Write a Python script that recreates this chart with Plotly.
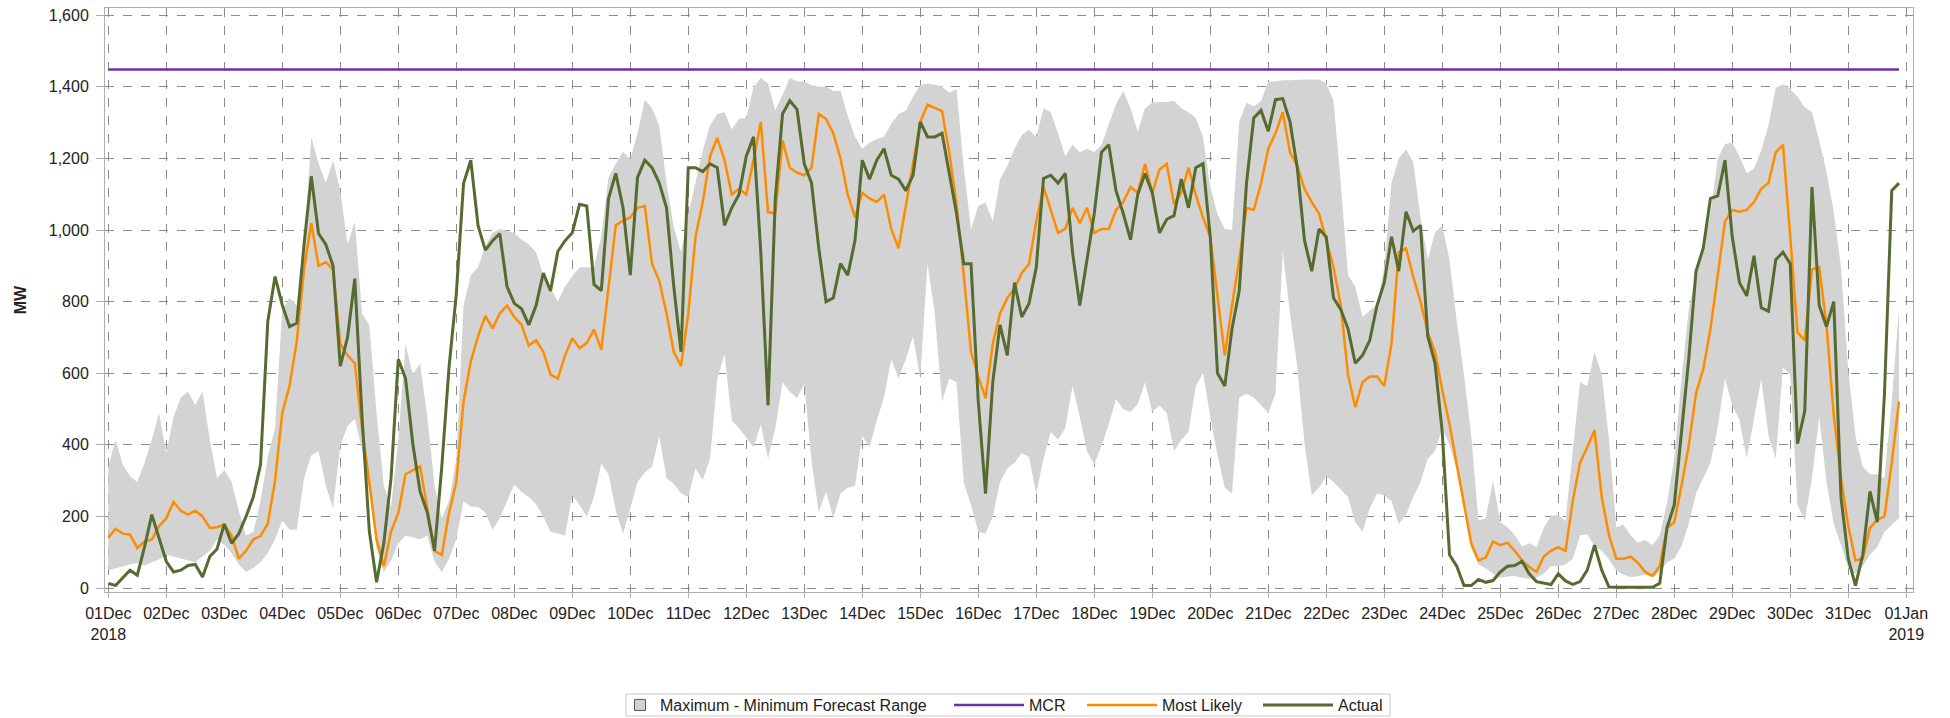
import pandas as pd
import plotly.graph_objects as go

# 3-hourly samples, 01 Dec 2018 00:00 .. 31 Dec 2018 21:00 (8 values per day)
max_mw = [
    339, 414, 345, 312, 296, 350, 414, 489,
    377, 478, 532, 548, 511, 548, 414, 307,
    329, 297, 216, 147, 157, 243, 366, 446,
    778, 810, 789, 949, 1260, 1185, 1131, 1195,
    1110, 960, 1024, 767, 735, 489, 286, 227,
    414, 682, 596, 628, 479, 286, 195, 243,
    361, 789, 874, 896, 955, 992, 1003, 997,
    992, 973, 960, 938, 874, 837, 800, 842,
    871, 896, 896, 896, 981, 1147, 1185, 1219,
    1197, 1270, 1364, 1340, 1292, 1131, 1008, 938,
    1045, 1131, 1222, 1292, 1324, 1329, 1281, 1311,
    1313, 1399, 1425, 1409, 1334, 1377, 1425, 1415,
    1415, 1404, 1400, 1400, 1388, 1388, 1319, 1260,
    1227, 1244, 1254, 1260, 1297, 1324, 1334, 1372,
    1404, 1409, 1406, 1400, 1383, 1393, 1174, 1003,
    1067, 1077, 1024, 1142, 1179, 1227, 1265, 1280,
    1260, 1340, 1329, 1270, 1206, 1238, 1217, 1227,
    1217, 1238, 1297, 1351, 1388, 1340, 1275, 1340,
    1356, 1356, 1358, 1361, 1340, 1329, 1313, 1260,
    1120, 1045, 1003, 1000, 1302, 1356, 1345, 1360,
    1415, 1415, 1418, 1418, 1420, 1420, 1420, 1420,
    1410, 1361, 1131, 874, 842, 757, 775, 790,
    896, 1131, 1200, 1225, 1190, 1035, 917, 992,
    1013, 917, 746, 596, 425, 189, 195, 300,
    184, 170, 148, 116, 125, 114, 168, 202,
    205, 189, 382, 575, 564, 660, 596, 414,
    170, 177, 147, 127, 134, 120, 147, 237,
    361, 585, 778, 880, 938, 1046, 1200, 1240,
    1244, 1206, 1158, 1172, 1222, 1292, 1397, 1407,
    1393, 1372, 1343, 1329, 1249, 1163, 1051, 896,
    607, 425, 339, 318, 318, 307, 522, 780,
]

min_mw = [
    50, 56, 61, 66, 70, 63, 72, 80,
    93, 88, 82, 77, 72, 88, 104, 136,
    120, 98, 66, 45, 56, 72, 98, 136,
    190, 163, 163, 307, 371, 382, 286, 222,
    398, 452, 473, 387, 270, 110, 45, 77,
    125, 147, 141, 136, 147, 74, 45, 82,
    136, 243, 227, 227, 211, 163, 195, 243,
    290, 268, 254, 234, 200, 157, 152, 147,
    259, 232, 200, 254, 347, 318, 216, 152,
    222, 296, 323, 339, 425, 307, 291, 264,
    254, 334, 302, 361, 585, 654, 468, 446,
    420, 393, 457, 361, 446, 575, 548, 530,
    570, 355, 211, 270, 195, 264, 280, 286,
    425, 393, 468, 532, 639, 585, 639, 703,
    585, 906, 767, 521, 585, 575, 294, 232,
    157, 152, 200, 296, 334, 350, 377, 366,
    264, 361, 436, 414, 446, 564, 478, 382,
    345, 398, 457, 527, 500, 492, 514, 575,
    492, 510, 489, 382, 414, 436, 563, 601,
    478, 371, 280, 264, 532, 543, 532, 510,
    489, 543, 940, 767, 617, 404, 259, 280,
    312, 296, 275, 254, 184, 157, 222, 264,
    259, 243, 179, 205, 254, 296, 361, 382,
    446, 400, 330, 220, 110, 65, 55, 40,
    29, 32, 34, 29, 26, 29, 40, 61,
    61, 66, 82, 147, 150, 117, 104, 80,
    50, 37, 31, 33, 37, 30, 45, 72,
    82, 117, 179, 264, 307, 350, 450, 585,
    510, 470, 361, 478, 585, 425, 361, 617,
    596, 232, 189, 307, 478, 297, 179, 120,
    56, 40, 61, 93, 114, 157, 177, 195,
]

most_likely_mw = [
    141, 165, 152, 149, 112, 130, 136, 173,
    195, 241, 216, 205, 216, 200, 168, 170,
    177, 147, 82, 104, 136, 145, 180, 300,
    490, 565, 690, 890, 1020, 900, 910, 890,
    682, 650, 628, 446, 296, 136, 61, 157,
    210, 318, 329, 340, 222, 104, 93, 210,
    296, 521, 633, 703, 760, 725, 767, 789,
    757, 735, 677, 692, 660, 596, 585, 650,
    698, 670, 685, 722, 666, 842, 1013, 1026,
    1035, 1062, 1067, 906, 858, 767, 660, 620,
    767, 981, 1078, 1206, 1257, 1195, 1099, 1115,
    1099, 1195, 1302, 1050, 1046, 1250, 1174, 1160,
    1153, 1174, 1324, 1310, 1270, 1200, 1099, 1035,
    1104, 1088, 1078, 1099, 1003, 949, 1067, 1185,
    1302, 1350, 1340, 1332, 1217, 1072, 874, 660,
    591, 530, 682, 767, 810, 837, 880, 905,
    1024, 1120, 1056, 992, 1003, 1062, 1019, 1062,
    992, 1003, 1003, 1056, 1078, 1120, 1104, 1185,
    1104, 1169, 1185, 1072, 1104, 1174, 1099, 1035,
    981, 810, 650, 789, 917, 1062, 1056, 1130,
    1227, 1270, 1329, 1217, 1180, 1115, 1078, 1046,
    971, 896, 789, 596, 505, 575, 591, 591,
    564, 682, 938, 949, 869, 800, 714, 660,
    553, 457, 345, 232, 125, 77, 85, 130,
    120, 127, 104, 77, 59, 45, 88, 104,
    114, 104, 243, 350, 393, 441, 254, 147,
    82, 82, 88, 70, 45, 34, 61, 168,
    184, 286, 398, 543, 612, 724, 870, 1024,
    1056, 1051, 1056, 1078, 1115, 1131, 1217, 1238,
    981, 714, 692, 890, 896, 735, 484, 307,
    173, 77, 82, 168, 191, 200, 350, 521,
]

actual_mw = [
    13, 7, 29, 50, 36, 115, 205, 141,
    74, 45, 50, 63, 66, 31, 88, 109,
    179, 125, 152, 200, 254, 345, 745, 870,
    790, 730, 740, 960, 1150, 990, 960, 900,
    620, 700, 864, 478, 160, 16, 125, 307,
    639, 585, 403, 270, 211, 104, 339, 617,
    821, 1130, 1195, 1013, 944, 970, 990, 842,
    795, 780, 735, 789, 880, 830, 940, 970,
    992, 1072, 1067, 848, 831, 1088, 1158, 1062,
    874, 1147, 1195, 1174, 1131, 1062, 842, 660,
    1174, 1174, 1163, 1185, 1174, 1013, 1062, 1099,
    1206, 1260, 938, 510, 1088, 1324, 1361, 1337,
    1185, 1131, 949, 800, 810, 906, 874, 971,
    1195, 1142, 1195, 1227, 1153, 1142, 1110, 1153,
    1302, 1260, 1260, 1270, 1158, 1046, 906, 906,
    521, 264, 575, 735, 650, 853, 757, 795,
    896, 1144, 1153, 1131, 1158, 938, 789, 917,
    1046, 1217, 1238, 1110, 1046, 973, 1099, 1158,
    1104, 992, 1030, 1040, 1142, 1062, 1174, 1185,
    981, 600, 564, 724, 831, 1131, 1313, 1334,
    1276, 1364, 1367, 1302, 1174, 971, 885, 1003,
    981, 810, 778, 724, 628, 650, 692, 789,
    853, 981, 885, 1051, 997, 1013, 703, 628,
    435, 93, 61, 7, 7, 24, 16, 21,
    45, 61, 63, 75, 40, 18, 13, 10,
    40, 20, 10, 18, 50, 120, 50, 3,
    2, 2, 2, 2, 2, 2, 13, 168,
    232, 436, 639, 885, 949, 1088, 1095, 1195,
    981, 853, 816, 928, 783, 773, 917, 938,
    906, 403, 494, 1120, 789, 730, 800, 254,
    82, 7, 93, 270, 184, 543, 1110, 1131,
]

MCR_MW = 1448

times = pd.date_range("2018-12-01 00:00", periods=len(max_mw), freq="3h")
tick_days = pd.date_range("2018-12-01", "2019-01-01", freq="D")
tick_text = [d.strftime("%d%b") for d in tick_days]
tick_text[0] += "<br>2018"
tick_text[-1] += "<br>2019"

BAND = "#d3d3d3"
PURPLE = "#7030a0"
ORANGE = "#ff8c00"
GREEN = "#556b2f"
AXIS = "#a9b0b8"
GRID = "#8c8c8c"
FONT = "Liberation Sans, Arial, sans-serif"

# layout geometry (pixels)
W, H = 1950, 718
ML, MR, MT, MB = 105, 37, 8, 126
PW, PH = W - ML - MR, H - MT - MB


def px_x(px):
    return (px - ML) / PW


def px_y(py):
    return (H - MB - py) / PH


fig = go.Figure()
fig.add_trace(go.Scatter(x=times, y=min_mw, mode="lines", line=dict(width=0, color=BAND),
                         showlegend=False, legendgroup="band", hoverinfo="skip"))
fig.add_trace(go.Scatter(x=times, y=max_mw, mode="lines", line=dict(width=0, color=BAND),
                         fill="tonexty", fillcolor=BAND, showlegend=False,
                         legendgroup="band", hoverinfo="skip"))
fig.add_trace(go.Scatter(x=[None], y=[None], mode="markers", legendgroup="band",
                         name="Maximum - Minimum Forecast Range", legend="legend",
                         marker=dict(symbol="square", size=11, color=BAND,
                                     line=dict(color="#555555", width=1))))
fig.add_trace(go.Scatter(x=times, y=[MCR_MW] * len(times), mode="lines", name="MCR",
                         legend="legend2", line=dict(color=PURPLE, width=2.5)))
fig.add_trace(go.Scatter(x=times, y=most_likely_mw, mode="lines", name="Most Likely",
                         legend="legend3", line=dict(color=ORANGE, width=2.5)))
fig.add_trace(go.Scatter(x=times, y=actual_mw, mode="lines", name="Actual",
                         legend="legend4", line=dict(color=GREEN, width=3)))

LEG_Y = (H - 705) / H  # container fraction from bottom
leg_common = dict(orientation="h", yref="container", yanchor="middle", y=LEG_Y,
                  xref="paper", xanchor="left",
                  borderwidth=0, bgcolor="rgba(0,0,0,0)",
                  font=dict(family=FONT, size=16, color="#222222"))

fig.update_layout(
    width=W, height=H,
    margin=dict(l=ML, r=MR, t=MT, b=MB, autoexpand=False),
    paper_bgcolor="white", plot_bgcolor="white",
    font=dict(family=FONT, size=16, color="#222222"),
    legend=dict(x=px_x(620), itemwidth=30, **leg_common),
    legend2=dict(x=px_x(949), itemwidth=70, **leg_common),
    legend3=dict(x=px_x(1082), itemwidth=70, **leg_common),
    legend4=dict(x=px_x(1258), itemwidth=70, **leg_common),
    shapes=[dict(type="rect", xref="paper", yref="paper",
                 x0=px_x(626), x1=px_x(1390), y0=px_y(716), y1=px_y(694),
                 line=dict(color="#c8c8c8", width=1), fillcolor="rgba(0,0,0,0)",
                 layer="above")],
)
fig.update_xaxes(
    type="date",
    range=["2018-11-30 22:38", "2019-01-01 02:48"],
    tickmode="array", tickvals=tick_days, ticktext=tick_text,
    showgrid=True, gridcolor=GRID, griddash="dash", gridwidth=1,
    showline=True, mirror=True, linecolor=AXIS, linewidth=1,
    ticks="outside", ticklen=5, tickcolor=AXIS, ticklabelstandoff=2,
    zeroline=False, automargin=False,
)
fig.update_yaxes(
    range=[-11, 1620], tickmode="linear", tick0=0, dtick=200, tickformat=",",
    showgrid=True, gridcolor=GRID, griddash="dash", gridwidth=1,
    showline=True, mirror=True, linecolor=AXIS, linewidth=1,
    ticks="outside", ticklen=8, tickcolor=AXIS, ticklabelstandoff=4,
    zeroline=False, automargin=False,
    title=dict(text="<b>MW</b>", standoff=18, font=dict(family=FONT, size=16, color="#222222")),
)

fig.write_html("out.html", config={"displayModeBar": False},
               post_script="document.body.style.margin='0px';document.body.style.overflow='hidden';")
